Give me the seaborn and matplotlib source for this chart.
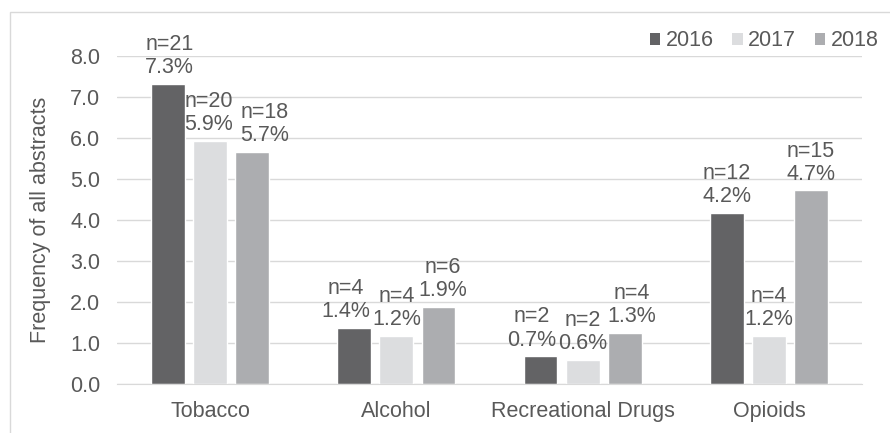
import numpy as np
import pandas as pd
import matplotlib
matplotlib.use('Agg')
import matplotlib.pyplot as plt
from matplotlib.patches import Rectangle, Patch
import seaborn as sns

# data
categories = ['Tobacco', 'Alcohol', 'Recreational Drugs', 'Opioids']
years = ['2016', '2017', '2018']
freq_2016 = [7.32, 1.37, 0.68, 4.17]
freq_2017 = [5.93, 1.17, 0.59, 1.17]
freq_2018 = [5.66, 1.88, 1.25, 4.72]
n_2016 = [21, 4, 2, 12]
n_2017 = [20, 4, 2, 4]
n_2018 = [18, 6, 4, 15]
pct_2016 = ['7.3%', '1.4%', '0.7%', '4.2%']
pct_2017 = ['5.9%', '1.2%', '0.6%', '1.2%']
pct_2018 = ['5.7%', '1.9%', '1.3%', '4.7%']

colors = ['#636365', '#dcdddf', '#acadb0']
text_col = '#595959'
grid_col = '#d9d9d9'
fs = 15.5

# sideways nudges (points) so neighbouring labels don't collide, like excel does
nudge = [[1, -6, -6.5, 0],
         [-1, 0, 0, 0],
         [9, 3, 5, 0]]

df = pd.DataFrame({
    'category': categories * 3,
    'year': [y for y in years for _ in categories],
    'freq': freq_2016 + freq_2017 + freq_2018,
})

sns.set_style('white')
plt.rcParams['font.family'] = ['Liberation Sans', 'DejaVu Sans']

fig = plt.figure(figsize=(8.9, 4.33), dpi=100)
ax = fig.add_axes([117/890, 1 - 384/433, (862 - 117)/890, (384 - 56)/433])

sns.barplot(data=df, x='category', y='freq', hue='year', palette=colors,
            width=0.68, gap=0.2, ax=ax, legend=False, saturation=1)

labels = [[f'n={n}\n{p}' for n, p in zip(n_2016, pct_2016)],
          [f'n={n}\n{p}' for n, p in zip(n_2017, pct_2017)],
          [f'n={n}\n{p}' for n, p in zip(n_2018, pct_2018)]]
for cont, lab, nd in zip(ax.containers, labels, nudge):
    anns = ax.bar_label(cont, labels=lab, fontsize=fs, color=text_col, padding=4,
                        linespacing=1.15)
    for a, dx in zip(anns, nd):
        a.xyann = (dx, a.xyann[1])

ax.set_ylim(0, 8)
ax.set_xlim(-0.5, 3.5)
ax.set_yticks(np.arange(0, 8.1, 1.0))
ax.set_yticklabels([f'{v:.1f}' for v in np.arange(0, 8.1, 1.0)])
ax.yaxis.grid(True, color=grid_col, lw=1)
ax.set_axisbelow(True)
for s in ['top', 'right', 'left']:
    ax.spines[s].set_visible(False)
ax.spines['bottom'].set_color(grid_col)
ax.tick_params(axis='both', length=0, labelsize=fs, colors=text_col)
ax.tick_params(axis='y', pad=12)
ax.tick_params(axis='x', pad=12)
ax.set_xlabel('')
ax.set_ylabel('Frequency of all abstracts', fontsize=fs, color=text_col, labelpad=14)

handles = [Patch(facecolor=c, edgecolor='none') for c in colors]
fig.legend(handles, years, loc='upper right', bbox_to_anchor=(898/890, 1 - 11/433),
           ncol=3, frameon=False, fontsize=fs, handlelength=0.5, handleheight=0.5,
           handletextpad=0.25, columnspacing=0.85, labelcolor=text_col)

# light frame around the chart
fig.patches.append(Rectangle((10/890, -0.01), 1.0, 1 - 12/433 + 0.01,
                             transform=fig.transFigure, fill=False,
                             edgecolor=grid_col, lw=1))

fig.savefig('out.png', dpi=100)
